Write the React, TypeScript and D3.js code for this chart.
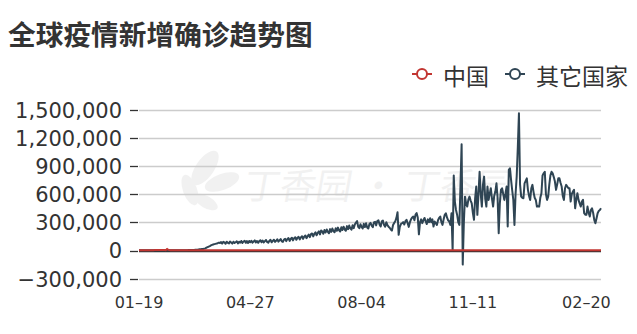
import React from "react";
import * as d3 from "d3";

const title = "全球疫情新增确诊趋势图";
const seriesNames = ["中国", "其它国家"];
const seriesColors = ["#c23531", "#2f4554"];
const startDate = "2020-01-19";
const endDate = "2021-03-05";
const xTickDates = ["2020-01-19", "2020-04-27", "2020-08-04", "2020-11-11", "2021-02-20"];
const xTickLabels = ["01–19", "04–27", "08–04", "11–11", "02–20"];
const yTicks = [-300000, 0, 300000, 600000, 900000, 1200000, 1500000];
const watermark = "丁香园 · 丁香园";

// daily new confirmed, China (raw counts), from 2020-01-19
const chinaDaily = [
  136, 19, 151, 140, 97, 259, 444, 688, 769, 1771,
  1459, 1737, 1982, 2102, 2590, 2829, 3235, 3887, 3694, 3143,
  3385, 2652, 2973, 2467, 2015, 15152, 5090, 2641, 2008, 2048,
  1886, 1749, 394, 889, 397, 648, 409, 508, 406, 433,
  327, 427, 573, 202, 125, 119, 139, 143, 99, 44,
  40, 19, 24, 15, 20, 11, 20, 16, 21, 13,
  34, 39, 41, 46, 39, 78, 47, 67, 55, 54,
  45, 48, 36, 35, 31, 26, 39, 30, 62, 83,
  47, 46, 99, 108, 97, 89, 46, 46, 27, 26,
  352, 30, 16, 12, 11, 25, 6, 22, 3, 6,
  2, 12, 1, 1, 2, 2, 1, 1, 17, 3,
  7, 5, 4, 6, 2, 14, 3, 13, 16, 14,
  10, 8, 6, 5, 4, 3, 6, 4, 5, 3,
  2, 4, 3, 5, 8, 11, 27, 57, 49, 36,
  25, 28, 29, 22, 30, 19, 18, 12, 19, 21,
  13, 19, 3, 12, 7, 5, 10, 19, 8, 7,
  22, 8, 21, 16, 26, 43, 13, 22, 57, 112,
  105, 118, 97, 95, 100, 123, 127, 88, 68, 61,
  49, 45, 37, 30, 27, 22, 23, 36, 21, 19,
  22, 25, 28, 24, 20, 16, 22, 19, 18, 17,
  15, 11, 14, 13, 9, 12, 10, 8, 14, 9,
  10, 16, 12, 11, 14, 10, 13, 9, 15, 12,
  11, 10, 14, 16, 12, 9, 10, 21, 15, 13,
  16, 10, 11, 14, 18, 12, 10, 16, 20, 13,
  15, 14, 19, 22, 17, 21, 20, 13, 18, 24,
  16, 21, 15, 19, 11, 20, 14, 35, 41, 28,
  22, 19, 17, 16, 24, 21, 15, 18, 25, 33,
  42, 28, 31, 24, 22, 18, 15, 22, 17, 21,
  19, 16, 23, 28, 33, 12, 14, 17, 15, 22,
  19, 17, 12, 16, 15, 13, 14, 9, 11, 18,
  22, 20, 17, 14, 13, 16, 12, 16, 21, 18,
  11, 14, 8, 12, 16, 22, 20, 15, 18, 23,
  25, 24, 29, 22, 23, 20, 28, 31, 27, 33,
  42, 24, 25, 17, 25, 24, 33, 55, 69, 86,
  103, 115, 138, 124, 144, 109, 88, 103, 94, 126,
  107, 72, 75, 56, 54, 53, 30, 36, 18, 13,
  22, 26, 14, 12, 10, 14, 17, 7, 14, 11,
  12, 8, 9, 6, 13, 10, 7, 9, 8, 11,
  6, 10, 7, 12, 8, 9, 6, 10, 7, 11,
  8, 6, 9, 7, 10, 6, 9, 8, 7, 12,
  8, 10, 9, 11, 7, 9, 6, 8, 10, 12,
  9, 11,
];

// daily new confirmed, other countries (thousands), from 2020-01-19
const otherDailyK = [
  0, 0, 0, 0.01, 0.01, 0.01, 0.02, 0.02, 0.03, 0.04,
  0.05, 0.06, 0.05, 0.04, 0.06, 0.05, 0.07, 0.08, 0.06, 0.05,
  0.07, 0.09, 0.06, 0.08, 0.1, 0.07, 0.09, 0.1, 0.12, 0.15,
  0.2, 0.3, 0.4, 0.5, 0.6, 0.8, 1.0, 0.9, 1.2, 1.4,
  1.6, 1.8, 2.0, 2.2, 2.5, 2.8, 3.2, 3.6, 4.2, 4.6,
  5.4, 6.3, 7.5, 9.0, 10.5, 11.8, 13.5, 15.2, 18.0, 21.0,
  28, 34, 40, 45, 52, 58, 62, 66, 69, 72,
  76, 82, 78, 88, 72, 90, 84, 70, 92, 80,
  74, 94, 84, 72, 92, 78, 86, 96, 74, 92,
  82, 100, 78, 94, 102, 80, 98, 78, 100, 86,
  102, 82, 94, 106, 84, 100, 80, 98, 108, 86,
  104, 84, 98, 110, 88, 82, 102, 112, 86, 100,
  112, 90, 102, 118, 92, 106, 120, 96, 90, 114,
  122, 98, 120, 130, 100, 124, 134, 106, 128, 140,
  112, 134, 144, 116, 138, 150, 122, 146, 158, 130,
  150, 168, 140, 172, 180, 148, 176, 192, 160, 186,
  202, 170, 212, 200, 176, 216, 190, 222, 196, 182,
  226, 196, 232, 206, 192, 236, 208, 242, 214, 200,
  246, 216, 252, 222, 208, 258, 226, 264, 234, 220,
  268, 236, 276, 296, 312, 250, 236, 278, 250, 232,
  282, 248, 288, 244, 232, 280, 292, 262, 246, 298,
  304, 266, 312, 320, 276, 254, 308, 316, 270, 252,
  300, 268, 252, 240, 222, 210, 270, 292, 310, 345,
  406, 165, 250, 280, 289, 300, 275, 310, 325, 290,
  250, 300, 330, 350, 360, 320, 380, 396, 350, 170,
  300, 330, 290, 320, 345, 310, 280, 330, 300, 342,
  300, 330, 253, 307, 290, 271, 320, 345, 360, 300,
  271, 330, 378, 395, 350, 320, 307, 271, 395, 0,
  798, 520, 430, 380, 300, 271, 700, 1130, -152, 300,
  572, 500, 466, 540, 572, 530, 501, 400, 325, 550,
  679, 378, 600, 837, 600, 466, 700, 785, 550, 466,
  679, 537, 600, 661, 550, 466, 580, 626, 714, 560,
  182, 500, 644, 661, 600, 537, 600, 679, 253, 857,
  874, 750, 640, 537, 271, 600, 785, 1100, 1459, 700,
  572, 560, 555, 714, 740, 767, 644, 580, 537, 661,
  697, 620, 560, 537, 466, 470, 466, 560, 608, 798,
  820, 837, 600, 537, 572, 700, 798, 837, 820, 780,
  732, 644, 700, 767, 767, 720, 679, 580, 537, 661,
  697, 680, 661, 661, 519, 600, 626, 644, 448, 540,
  608, 537, 500, 466, 520, 537, 395, 380, 378, 466,
  400, 360, 430, 448, 400, 325, 289, 340, 395, 420,
  430, 448,
];

const W = 637;
const H = 334;
const CJK = "'Noto Sans CJK SC', sans-serif";
const NUM = "'DejaVu Sans', sans-serif";

export default function App() {
  const start = new Date(startDate + "T00:00:00Z");
  const end = new Date(endDate + "T00:00:00Z");
  const x = d3.scaleUtc().domain([start, end]).range([139, 601]);
  const y = d3.scaleLinear().domain([-300000, 1500000]).range([278.5, 109.5]);

  const china = chinaDaily.map((v, i) => ({ date: d3.utcDay.offset(start, i), value: v }));
  const other = otherDailyK.map((v, i) => ({ date: d3.utcDay.offset(start, i), value: v * 1000 }));

  const line = d3
    .line<{ date: Date; value: number }>()
    .x((d) => x(d.date))
    .y((d) => y(d.value));

  const fmt = d3.format(",");
  const y0 = Math.round(y(0)) + 1.5;

  return (
    <svg
      width={W}
      height={H}
      style={{ position: "absolute", left: 0, top: 0, background: "#fff" }}
    >
      <rect x={0} y={0} width={W} height={H} fill="#fff" />
      <text x={8} y={33} fontSize={27.7} fontWeight="bold" fill="#333" dominantBaseline="central" fontFamily={CJK}>
        {title}
      </text>

      {/* legend */}
      {[
        { lx: 412, tx: 443 },
        { lx: 505, tx: 536 },
      ].map((p, i) => (
        <g key={i}>
          <line x1={p.lx} x2={p.lx + 20} y1={74} y2={74} stroke={seriesColors[i]} strokeWidth={2} />
          <circle cx={p.lx + 10} cy={74} r={5} fill="#fff" stroke={seriesColors[i]} strokeWidth={2} />
          <text x={p.tx} y={75} fontSize={23} fill="#333" dominantBaseline="central" fontFamily={CJK}>
            {seriesNames[i]}
          </text>
        </g>
      ))}

      {/* watermark */}
      <g opacity={0.05} fill="#000">
        <ellipse cx={205} cy={168} rx={9} ry={20} transform="rotate(35 205 168)" />
        <ellipse cx={222} cy={182} rx={8} ry={18} transform="rotate(70 222 182)" />
        <ellipse cx={190} cy={190} rx={7} ry={16} transform="rotate(-20 190 190)" />
        <ellipse cx={206} cy={202} rx={6} ry={13} transform="rotate(-60 206 202)" />
      </g>
      <text
        x={245}
        y={183}
        fontSize={36}
        fill="#000"
        opacity={0.05}
        dominantBaseline="central"
        fontFamily={CJK}
        transform="skewX(-10) translate(32,0)"
      >
        {watermark}
      </text>

      {/* grid + y axis */}
      {yTicks.map((t) => {
        const yy = t === 0 ? y0 : Math.round(y(t)) + 0.5;
        return (
          <g key={t}>
            {t !== 0 && <line x1={139} x2={601} y1={yy} y2={yy} stroke="#ccc" strokeWidth={1.3} />}
            <line x1={130} x2={138} y1={yy} y2={yy} stroke="#333" strokeWidth={1.3} />
            <text
              x={122}
              y={Math.round(y(t)) + 0.5}
              fontSize={21}
              fill="#333"
              textAnchor="end"
              dominantBaseline="central"
              fontFamily={NUM}
            >
              {fmt(t)}
            </text>
          </g>
        );
      })}

      {/* x axis line at zero */}
      <line x1={139} x2={601} y1={y0} y2={y0} stroke="#333" strokeWidth={1.3} />

      {xTickDates.map((d, i) => (
        <text
          key={d}
          x={x(new Date(d + "T00:00:00Z"))}
          y={302}
          fontSize={16}
          fill="#333"
          textAnchor="middle"
          dominantBaseline="central"
          fontFamily={NUM}
        >
          {xTickLabels[i]}
        </text>
      ))}

      <path d={line(other) ?? ""} fill="none" stroke={seriesColors[1]} strokeWidth={2} strokeLinejoin="round" />
      <path d={line(china) ?? ""} fill="none" stroke={seriesColors[0]} strokeWidth={2} strokeLinejoin="round" />
    </svg>
  );
}
